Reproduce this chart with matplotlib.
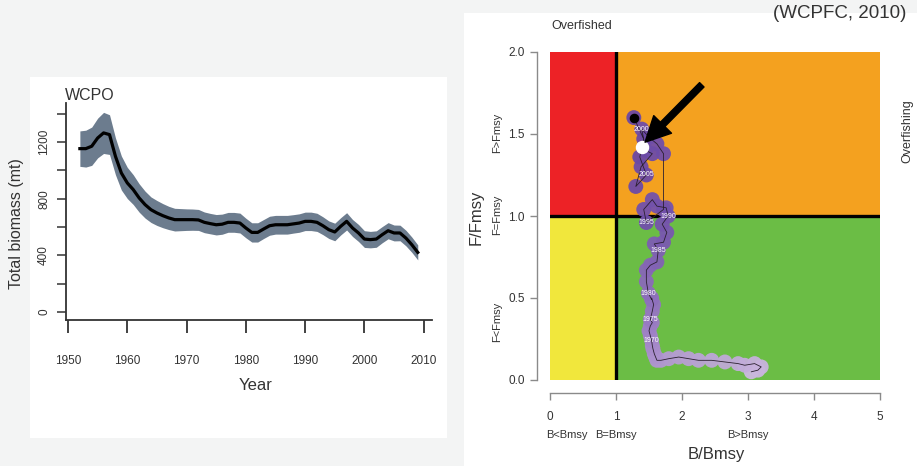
import matplotlib
matplotlib.use('Agg')
import matplotlib.pyplot as plt
from matplotlib.patches import Rectangle
import numpy as np

plt.rcParams['font.family'] = ['Liberation Sans', 'DejaVu Sans']

# Left panel: total biomass (WCPO)
years = list(range(1952, 2010))
biomass = [1153, 1153, 1170, 1228, 1264, 1252, 1099, 981, 911, 864,
           805, 758, 722, 699, 680, 664, 652, 652, 652, 652,
           650, 633, 624, 616, 620, 633, 633, 628, 593, 562,
           562, 586, 609, 616, 616, 616, 622, 628, 640, 640,
           633, 609, 581, 565, 605, 640, 593, 558, 515, 511,
           515, 546, 574, 558, 558, 522, 475, 421]
band = [125, 130, 135, 140, 145, 140, 130, 120, 110, 105,
        100, 95, 90, 88, 85, 82, 80, 78, 76, 75,
        74, 73, 72, 72, 71, 70, 70, 70, 69, 68,
        68, 67, 67, 66, 66, 66, 65, 65, 65, 65,
        64, 63, 62, 62, 61, 61, 60, 60, 59, 58,
        58, 57, 57, 56, 55, 55, 54, 53]

# Right panel: Kobe plot trajectory
kobe_b = [3.05, 3.15, 3.20, 3.10, 2.95, 2.85, 2.65, 2.45, 2.25, 2.10,
          1.95, 1.80, 1.68, 1.62, 1.60, 1.58, 1.56, 1.55, 1.54, 1.52,
          1.50, 1.52, 1.55, 1.52, 1.55, 1.57, 1.54, 1.54, 1.49, 1.46,
          1.46, 1.52, 1.62, 1.64, 1.58, 1.72, 1.77, 1.70, 1.79, 1.76,
          1.62, 1.55, 1.42, 1.46, 1.72, 1.72, 1.62, 1.50, 1.39, 1.45,
          1.55, 1.38, 1.30, 1.46, 1.36, 1.42, 1.27]
kobe_f = [0.05, 0.06, 0.08, 0.10, 0.09, 0.10, 0.11, 0.12, 0.12, 0.13,
          0.14, 0.13, 0.12, 0.12, 0.14, 0.16, 0.19, 0.21, 0.24, 0.27,
          0.30, 0.33, 0.35, 0.37, 0.42, 0.46, 0.50, 0.49, 0.53, 0.60,
          0.67, 0.70, 0.72, 0.79, 0.83, 0.84, 0.90, 0.95, 1.00, 1.05,
          1.06, 1.10, 1.04, 0.96, 1.04, 1.38, 1.44, 1.48, 1.53, 1.40,
          1.38, 1.30, 1.18, 1.25, 1.36, 1.47, 1.60]
kobe_years = list(range(1952, 2009))
label_years = [1970, 1975, 1980, 1985, 1990, 1995, 2000, 2005]
current_b, current_f = 1.40, 1.42

W, H = 917, 466
fig = plt.figure(figsize=(W / 100, H / 100), dpi=100)
fig.patch.set_facecolor('#f3f4f4')

def px(x, y):
    return x / W, 1 - y / H

def box(x0, y0, x1, y1):
    return [x0 / W, 1 - y1 / H, (x1 - x0) / W, (y1 - y0) / H]

# white backgrounds of the two pasted images
fig.patches.append(Rectangle(px(30, 438), 417 / W, 361 / H, transform=fig.transFigure,
                             facecolor='white', edgecolor='none', zorder=-5))
fig.patches.append(Rectangle(px(464, 466), 453 / W, 453 / H, transform=fig.transFigure,
                             facecolor='white', edgecolor='none', zorder=-5))

txt = '#333333'

# ---- left: biomass time series
ax1 = fig.add_axes(box(66, 103, 432, 320))
ax1.set_facecolor('none')
ax1.set_zorder(2)
yr = np.array(years)
bm = np.array(biomass)
bd = np.array(band)
ax1.fill_between(yr, bm - bd, bm + bd, color='#6c7c8e', lw=0)
ax1.plot(yr, bm, color='black', lw=2.3)
ax1.set_xlim(1949.66, 2011.4)
ax1.set_ylim(-56, 1475)
ax1.set_xticks([1950, 1960, 1970, 1980, 1990, 2000, 2010])
ax1.set_yticks([0, 400, 800, 1200])
ax1.set_yticks([200, 600, 1000, 1400], minor=True)
for s in ['top', 'right']:
    ax1.spines[s].set_visible(False)
for s in ['left', 'bottom']:
    ax1.spines[s].set_linewidth(1.3)
    ax1.spines[s].set_color('#333333')
ax1.tick_params(axis='x', length=9, width=1.3, pad=16, labelsize=8.5, colors=txt)
ax1.tick_params(axis='y', which='both', length=6.5, width=1.1, pad=5, labelsize=8.5,
                colors=txt)
for lab in ax1.get_yticklabels():
    lab.set_rotation(90)
    lab.set_va('center')
fig.text(*px(65, 96), 'WCPO', fontsize=11.5, color=txt, ha='left', va='center')
fig.text(*px(17, 224), 'Total biomass (mt)', fontsize=11.5, color=txt, rotation=90,
         ha='center', va='center')
fig.text(*px(256, 386), 'Year', fontsize=12, color=txt, ha='center', va='center')

# ---- right: Kobe plot
ax2 = fig.add_axes(box(550, 52, 880, 380))
ax2.set_zorder(2)
ax2.set_xlim(0, 5)
ax2.set_ylim(0, 2)
ax2.add_patch(Rectangle((0, 1), 1, 1, facecolor='#ed2226', edgecolor='none', zorder=0))
ax2.add_patch(Rectangle((1, 1), 4, 1, facecolor='#f4a11f', edgecolor='none', zorder=0))
ax2.add_patch(Rectangle((0, 0), 1, 1, facecolor='#f1e73c', edgecolor='none', zorder=0))
ax2.add_patch(Rectangle((1, 0), 4, 1, facecolor='#6bbd45', edgecolor='none', zorder=0))
ax2.axvline(1, color='black', lw=2.4, zorder=2)
ax2.axhline(1, color='black', lw=2.4, zorder=2)

n = len(kobe_b)
cmap = matplotlib.colors.LinearSegmentedColormap.from_list(
    'p', ['#cdb9e0', '#a386c8', '#7554ad', '#6a48a5'])
cols = [cmap(i / (n - 1)) for i in range(n)]
ax2.scatter(kobe_b, kobe_f, s=115, c=cols, edgecolors='none', zorder=3, alpha=0.95)
ax2.plot(kobe_b, kobe_f, color='#2b2030', lw=0.6, zorder=4)
ax2.scatter([kobe_b[-1]], [kobe_f[-1]], s=35, c='black', zorder=5)
ax2.scatter([current_b], [current_f], s=75, c='white', zorder=6)
for y in label_years:
    i = kobe_years.index(y)
    ax2.text(kobe_b[i], kobe_f[i], str(y), fontsize=5, color='white', ha='center',
             va='center', zorder=5)
ax2.annotate('', xy=(current_b + 0.04, current_f + 0.03), xytext=(2.30, 1.80),
             arrowprops=dict(facecolor='black', edgecolor='black', width=4.5,
                             headwidth=18, headlength=18), zorder=7)

ax2.set_xticks([0, 1, 2, 3, 4, 5])
ax2.set_yticks([0.0, 0.5, 1.0, 1.5, 2.0])
ax2.set_yticklabels(['0.0', '0.5', '1.0', '1.5', '2.0'])
for s in ['top', 'right']:
    ax2.spines[s].set_visible(False)
for s in ['left', 'bottom']:
    ax2.spines[s].set_position(('outward', 9.5))
    ax2.spines[s].set_color('#8a8a8a')
    ax2.spines[s].set_linewidth(1.0)
ax2.tick_params(axis='both', length=5, width=1.0, color='#8a8a8a', labelsize=8.5,
                labelcolor=txt)
ax2.tick_params(axis='x', pad=8)

zone = dict(fontsize=8, color=txt, ha='center', va='center')
fig.text(*px(582, 26), 'Overfished', fontsize=9, color=txt, ha='center', va='center')
fig.text(*px(907, 131), 'Overfishing', rotation=90, fontsize=9, color=txt,
         ha='center', va='center')
fig.text(*px(497, 133), 'F>Fmsy', rotation=90, **zone)
fig.text(*px(497, 215), 'F=Fmsy', rotation=90, **zone)
fig.text(*px(497, 322), 'F<Fmsy', rotation=90, **zone)
fig.text(*px(567, 435), 'B<Bmsy', **zone)
fig.text(*px(616, 435), 'B=Bmsy', **zone)
fig.text(*px(748, 435), 'B>Bmsy', **zone)
fig.text(*px(476, 217), 'F/Fmsy', fontsize=12, color=txt, rotation=90,
         ha='center', va='center')
fig.text(*px(716, 454), 'B/Bmsy', fontsize=12, color=txt, ha='center', va='center')
fig.text(*px(906, 13), '(WCPFC, 2010)', fontsize=13.5, color=txt, ha='right',
         va='center')

fig.savefig('out.png', dpi=100, facecolor=fig.get_facecolor())
